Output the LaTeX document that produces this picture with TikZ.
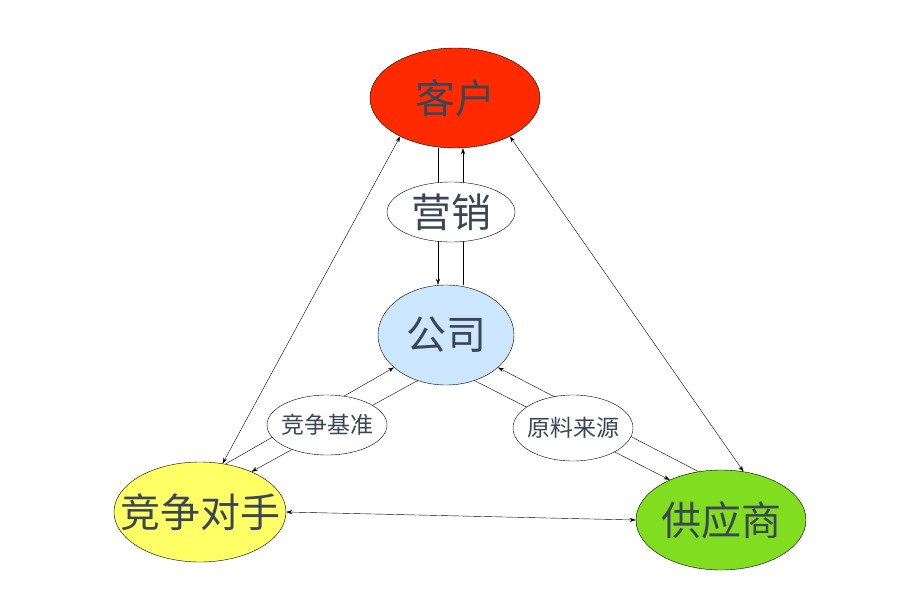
\documentclass[tikz,border=0pt]{standalone}
\usepackage{fontspec}
\setmainfont{Noto Sans CJK SC}
\usetikzlibrary{shapes.geometric,arrows.meta}

\tikzstyle{party} = [ellipse, draw, inner sep=0pt, inner xsep=-40pt, text=textgray
                    , font=\fontsize{40}{42}\selectfont]
\tikzstyle{link}  = [ellipse, draw, fill=white, inner sep=0pt, inner xsep=-25pt, text=textgray
                    , font=\fontsize{23}{25}\selectfont]
\definecolor{textgray}{HTML}{3A4656}
\definecolor{kehured}{HTML}{FF2A00}
\definecolor{gongsiblue}{HTML}{CCE6FF}
\definecolor{rivalyellow}{HTML}{FFFF66}
\definecolor{supgreen}{HTML}{80DD1F}

\begin{document}
\begin{tikzpicture}[x=1pt, y=-1pt, >={Stealth[length=6pt,width=4pt]}]
\useasboundingbox (0,0) rectangle (918,610);

%% Main parties
\node [party, fill=kehured, minimum width=170pt, minimum height=100pt] (Kehu) at (455,98) {客户};
\node [party, fill=gongsiblue, minimum width=136pt, minimum height=100pt] (Gongsi) at (446,335) {公司};
\node [party, fill=rivalyellow, minimum width=172pt, minimum height=100pt] (Duishou) at (200,512) {竞争对手};
\node [party, fill=supgreen, minimum width=170pt, minimum height=100pt] (Gongying) at (721,520) {供应商};

%% Paired lines through the links
\draw [->] ([xshift=-17pt]Kehu.south) -- ([xshift=-8pt]Gongsi.north);
\draw [->] ([xshift=17pt]Gongsi.north) -- ([xshift=8pt]Kehu.south);
\draw [->] (Duishou.62) -- (Gongsi.212);
\draw [->] (Gongsi.238) -- (Duishou.38);
\draw [->] (Gongsi.302) -- (Gongying.142);
\draw [->] (Gongying.115) -- (Gongsi.328);

%% Link labels
\node [link, font=\fontsize{40}{42}\selectfont, minimum width=128pt, minimum height=60pt] (Yingxiao) at (451,212) {营销};
\node [link, minimum width=120pt, minimum height=60pt] (Jizhun) at (327,425) {竞争基准};
\node [link, minimum width=120pt, minimum height=66pt] (Yuanliao) at (573,428) {原料来源};

%% Outer triangle
\draw [<->] (Kehu.215) -- (Duishou.65);
\draw [<->] (Kehu.325) -- (Gongying.65);
\draw [<->] (Duishou.east) -- (Gongying.west);

\end{tikzpicture}
\end{document}
